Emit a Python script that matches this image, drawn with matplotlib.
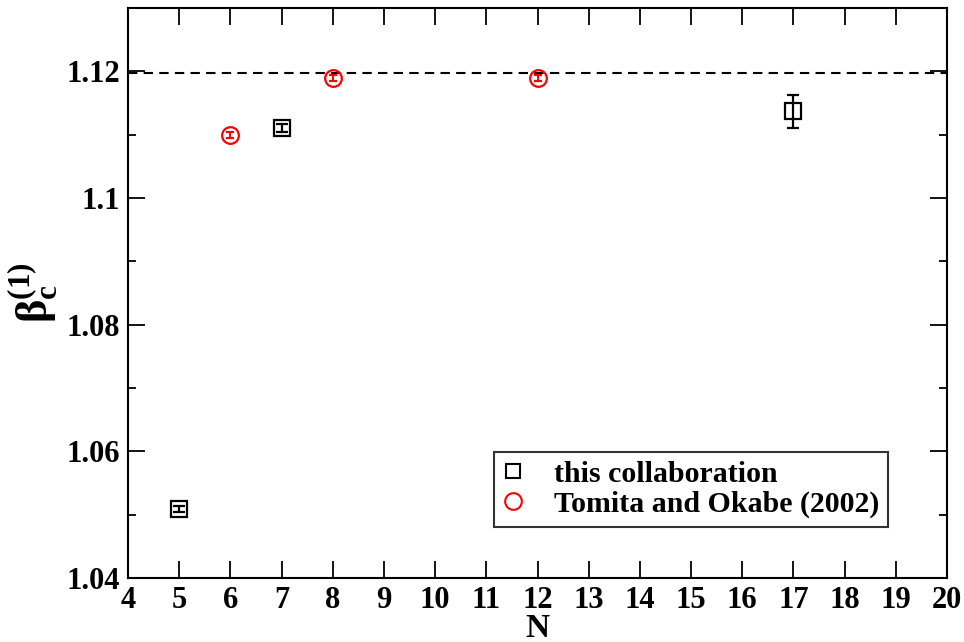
import matplotlib.pyplot as plt
from matplotlib.ticker import MultipleLocator
from matplotlib.lines import Line2D

# this collaboration
n_ours = [5, 7, 17]
beta_ours = [1.0509, 1.1111, 1.1137]
err_ours = [0.0004, 0.0006, 0.0026]

# Tomita and Okabe (2002)
n_to = [6, 8, 12]
beta_to = [1.1100, 1.1190, 1.1189]
err_to = [0.0005, 0.0005, 0.0005]

beta_inf = 1.1198

plt.rcParams['font.family'] = ['Liberation Serif', 'DejaVu Serif']
plt.rcParams['font.weight'] = 'bold'
plt.rcParams['mathtext.fontset'] = 'custom'
plt.rcParams['mathtext.rm'] = 'Liberation Serif'
plt.rcParams['mathtext.it'] = 'Liberation Serif:bold'
plt.rcParams['mathtext.bf'] = 'Liberation Serif:bold'

fig = plt.figure(figsize=(9.64, 6.42), dpi=100)
ax = fig.add_axes([128 / 964, 1 - 578 / 642, 819 / 964, 570 / 642])

ax.axhline(beta_inf, color='black', ls=(0, (4.5, 3.0)), lw=1.5, zorder=1)

ax.errorbar(n_ours, beta_ours, yerr=err_ours, fmt='s', ms=11, mfc='none',
            mec='black', mew=1.6, ecolor='black', elinewidth=1.6, capsize=4,
            capthick=1.6, zorder=3)
ax.errorbar(n_to, beta_to, yerr=err_to, fmt='o', ms=12, mfc='none',
            mec='red', mew=1.6, ecolor='red', elinewidth=1.4, capsize=3,
            capthick=1.4, zorder=3)

ax.set_xlim(4, 20)
ax.set_ylim(1.04, 1.13)
ax.xaxis.set_major_locator(MultipleLocator(1))
ax.yaxis.set_minor_locator(MultipleLocator(0.01))
ax.set_yticks([1.04, 1.06, 1.08, 1.1, 1.12])
ax.set_yticklabels(['1.04', '1.06', '1.08', '1.1', '1.12'])
ax.tick_params(which='both', direction='in', top=True, right=True,
               width=1.3, labelsize=22, pad=6)
ax.tick_params(which='major', length=12)
ax.tick_params(which='minor', length=6)
for lab in ax.get_xticklabels() + ax.get_yticklabels():
    lab.set_fontweight('bold')
for s in ax.spines.values():
    s.set_linewidth(1.5)

ax.set_xlabel('N', fontsize=24, fontweight='bold', labelpad=-2)
ax.set_ylabel(r'$\mathrm{\beta}_{\mathbf{c}}^{\mathbf{(1)}}$', fontsize=32, labelpad=4)

handles = [
    Line2D([], [], ls='none', marker='s', ms=10, mfc='none', mec='black', mew=1.5),
    Line2D([], [], ls='none', marker='o', ms=12, mfc='none', mec='red', mew=1.5),
]
leg = ax.legend(handles, ['this collaboration', 'Tomita and Okabe (2002)'],
                loc='lower right', bbox_to_anchor=(0.928, 0.0895),
                borderaxespad=0, numpoints=1, fontsize=21.5, frameon=True,
                fancybox=False, edgecolor='black', handlelength=0.7,
                handletextpad=1.0, borderpad=0.3, labelspacing=0.1)
leg.get_frame().set_linewidth(1.5)
for t in leg.get_texts():
    t.set_fontweight('bold')

fig.savefig('out.png', dpi=100)
